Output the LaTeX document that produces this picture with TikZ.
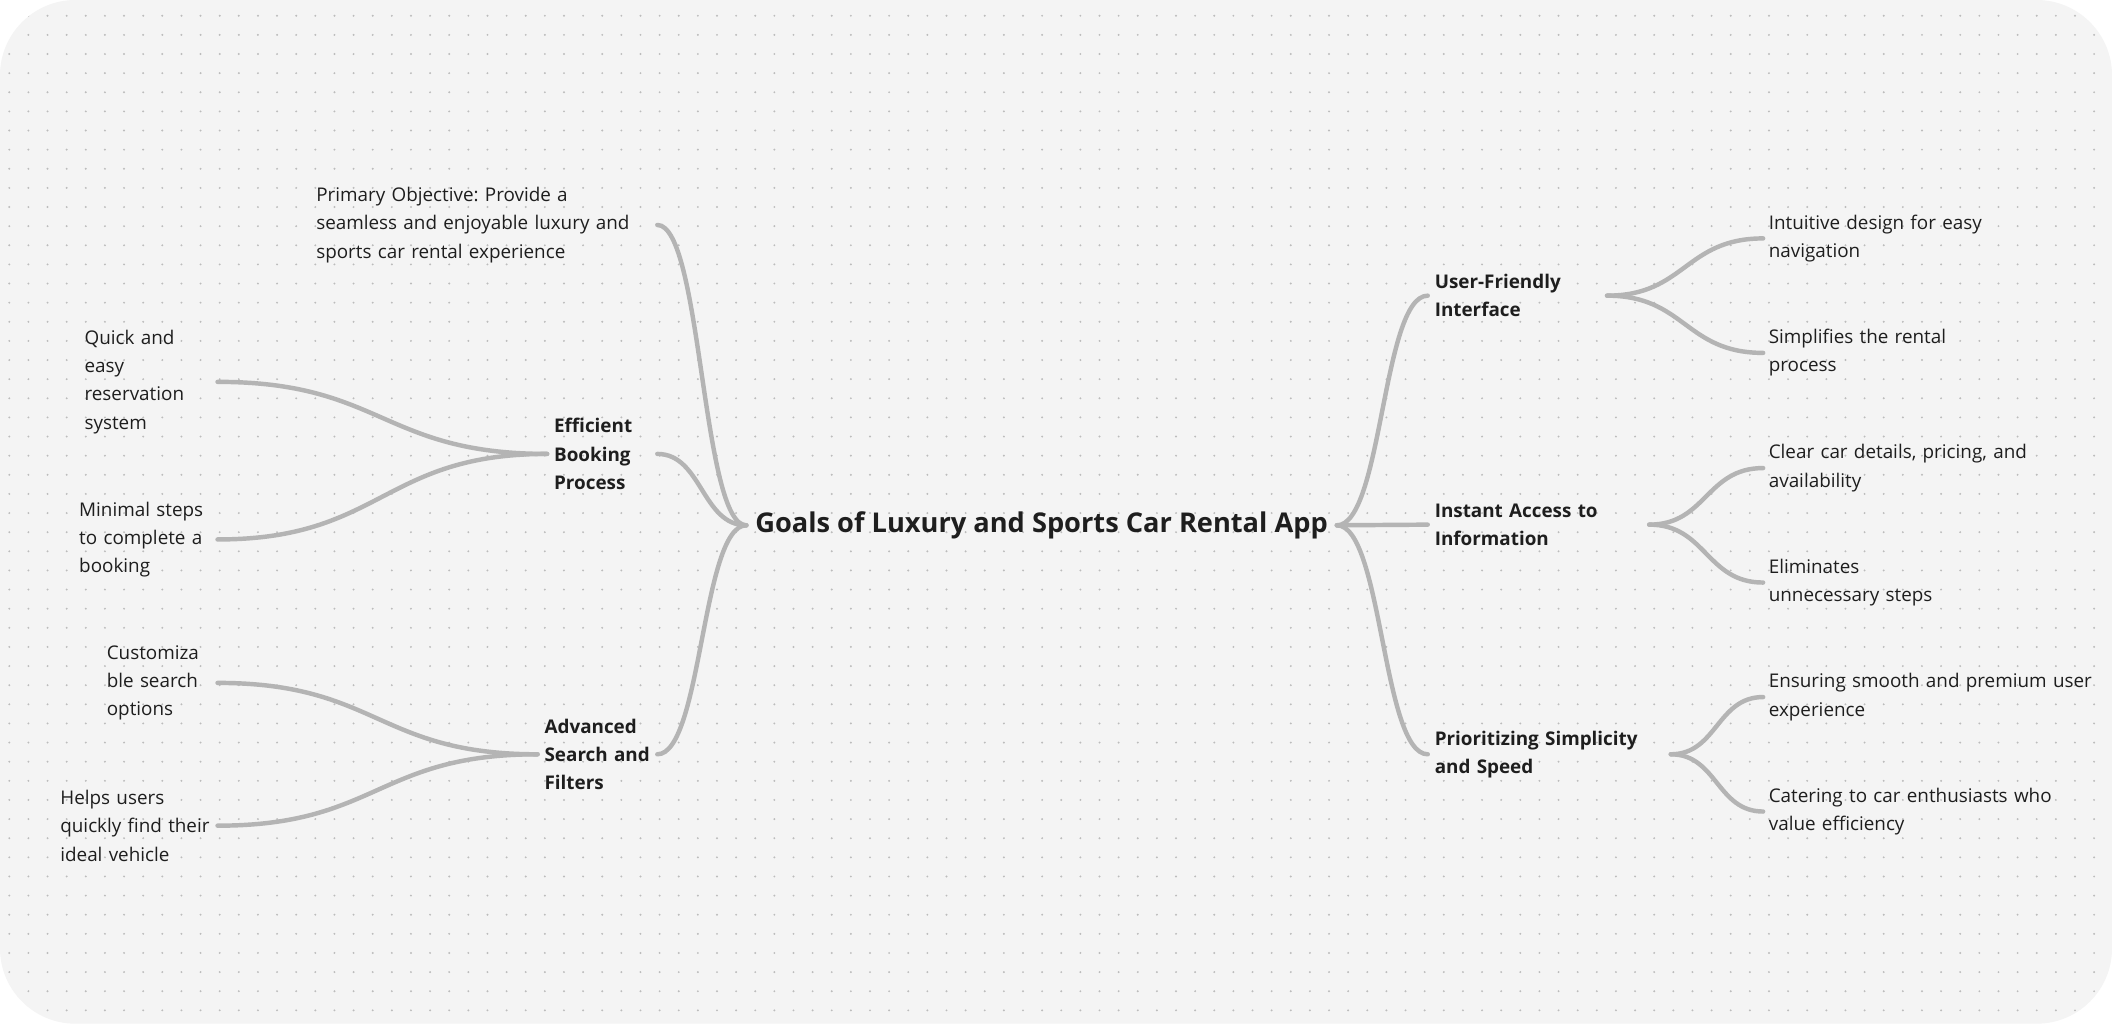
\documentclass[tikz,border=0pt]{standalone}
\usepackage{fontspec}
\setmainfont{Open Sans}
\usetikzlibrary{calc}
\frenchspacing

\definecolor{paper}{HTML}{F4F4F4}
\definecolor{dotgray}{HTML}{BCBCBC}
\definecolor{linkgray}{HTML}{B4B4B4}
\definecolor{ink}{HTML}{1E1E1E}

\begin{document}
\begin{tikzpicture}[x=1pt, y=-1pt,
    every node/.style={text=ink, inner ysep=0pt, align=left, font=\fontsize{14}{21}\selectfont},
    leaf/.style={inner xsep=4pt},
    topic/.style={inner xsep=5pt, font=\fontsize{14}{21}\selectfont\bfseries},
    link/.style={draw=linkgray, line width=3.3pt, line cap=round},
    branch/.style={to path={.. controls ($(\tikztostart)!0.5!(\tikztotarget |- \tikztostart)$)
        and ($(\tikztotarget)!0.5!(\tikztostart |- \tikztotarget)$) .. (\tikztotarget)}}]
    \useasboundingbox (0,0) rectangle (1568,760);
    % Background and dot grid
    \fill[white] (0,0) rectangle (1568,760);
    \fill[paper, rounded corners=56pt] (0,0) rectangle (1568,760);
    \begin{scope}
        \clip[rounded corners=56pt] (0,0) rectangle (1568,760);
        \foreach \y in {11.7,25.9,...,760}
            \draw[dotgray, line width=1.6pt, line cap=round, dash pattern=on 0pt off 14.2pt] (6.9,\y) -- (1568,\y);
    \end{scope}

    % Define Nodes
    \node (goal) [inner xsep=6.5pt, font=\fontsize{20.2}{24}\selectfont\bfseries] at (773.3,390) {Goals of Luxury and Sports Car Rental App};

    \node (ebp) [topic, anchor=east, text width=71.4pt] at (488,337) {Efficient\\Booking\\Process};
    \node (asf) [topic, anchor=east, text width=78.5pt] at (488,560) {Advanced\\Search~and\\Filters};
    \node (ufi) [topic, anchor=west, text width=122.7pt] at (1060,219.5) {User-Friendly\\Interface};
    \node (iai) [topic, anchor=west, text width=154pt] at (1060,389.5) {Instant Access to\\Information};
    \node (pss) [topic, anchor=west, text width=170pt] at (1060,560) {Prioritizing Simplicity\\and Speed};

    \node (po) [leaf, anchor=east, text width=249pt] at (488,167) {Primary Objective: Provide a\\seamless and enjoyable luxury and\\sports car rental experience};
    \node (quick) [leaf, anchor=east, text width=94.5pt] at (161.5,283.5) {Quick and\\easy\\reservation\\system};
    \node (minimal) [leaf, anchor=east, text width=98.5pt] at (161.5,400.5) {Minimal steps\\to complete a\\booking};
    \node (custom) [leaf, anchor=east, text width=78pt] at (161.5,507) {Customiza\\ble search\\options};
    \node (helps) [leaf, anchor=east, text width=112.5pt] at (161.5,613) {Helps users\\quickly~find~their\\ideal vehicle};

    \node (intuitive) [leaf, anchor=west, text width=250pt] at (1309,177) {Intuitive design for easy\\navigation};
    \node (simplifies) [leaf, anchor=west, text width=250pt] at (1309,262) {Simplifies the rental\\process};
    \node (clear) [leaf, anchor=west, text width=250pt] at (1309,347.5) {Clear car details, pricing, and\\availability};
    \node (elim) [leaf, anchor=west, text width=250pt] at (1309,432.5) {Eliminates\\unnecessary steps};
    \node (ensuring) [leaf, anchor=west, text width=250pt] at (1309,517.5) {Ensuring smooth and premium user\\experience};
    \node (catering) [leaf, anchor=west, text width=250pt] at (1309,602.5) {Catering to car enthusiasts who\\value efficiency};

    % Draw Edges
    \draw[link] (goal.west) to[branch] (po.east);
    \draw[link] (goal.west) to[branch] (ebp.east);
    \draw[link] (goal.west) to[branch] (asf.east);
    \draw[link] (ebp.west) to[branch] (quick.east);
    \draw[link] (ebp.west) to[branch] (minimal.east);
    \draw[link] (asf.west) to[branch] (custom.east);
    \draw[link] (asf.west) to[branch] (helps.east);
    \draw[link] (goal.east) to[branch] (ufi.west);
    \draw[link] (goal.east) to[branch] (iai.west);
    \draw[link] (goal.east) to[branch] (pss.west);
    \draw[link] (ufi.east) to[branch] (intuitive.west);
    \draw[link] (ufi.east) to[branch] (simplifies.west);
    \draw[link] (iai.east) to[branch] (clear.west);
    \draw[link] (iai.east) to[branch] (elim.west);
    \draw[link] (pss.east) to[branch] (ensuring.west);
    \draw[link] (pss.east) to[branch] (catering.west);
\end{tikzpicture}
\end{document}
